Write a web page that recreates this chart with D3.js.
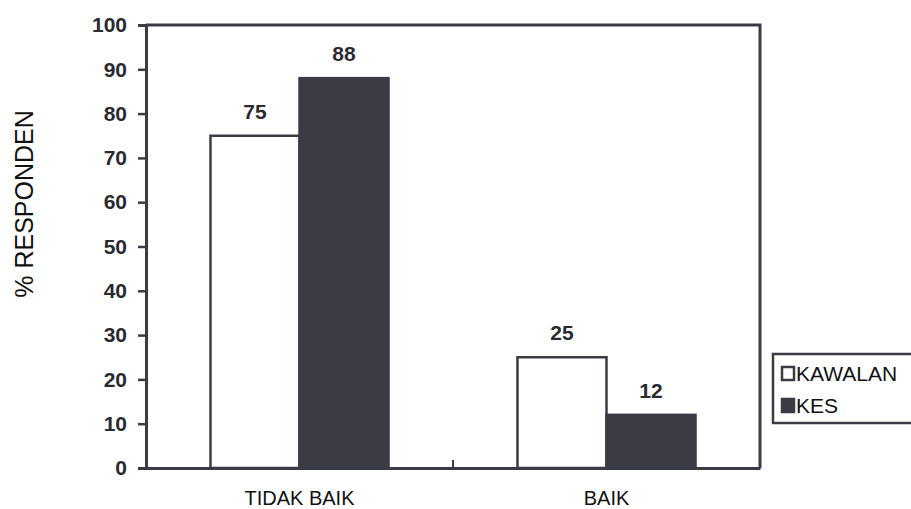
<!DOCTYPE html>
<html>
<head>
<meta charset="utf-8">
<script src="https://cdn.jsdelivr.net/npm/d3@7"></script>
<style>
  body { margin: 0; background: #fff; }
  svg { display: block; font-family: "Liberation Sans", Arial, sans-serif; }
</style>
</head>
<body>
<svg id="chart"></svg>
<script>
const categories = ["TIDAK BAIK", "BAIK"];
const series = ["KAWALAN", "KES"];
const kawalan = [75, 25];
const kes = [88, 12];
const yTicks = [0, 10, 20, 30, 40, 50, 60, 70, 80, 90, 100];

const width = 911;
const height = 509;
const ink = "#3b3b46";
const fills = { KAWALAN: "#fff", KES: ink };

const svg = d3.select("#chart")
    .attr("width", width)
    .attr("height", height);

const plot = { left: 146, right: 760, top: 25, bottom: 468 };

const y = d3.scaleLinear()
    .domain([0, 100])
    .range([plot.bottom, plot.top]);

const x0 = d3.scaleBand()
    .domain(categories)
    .range([plot.left, plot.right])
    .paddingInner(0.42)
    .paddingOuter(0.21);

const x1 = d3.scaleBand()
    .domain(series)
    .range([0, x0.bandwidth()]);

const rows = categories.map((c, i) => ({
    cat: c,
    values: [{ key: "KAWALAN", v: kawalan[i] }, { key: "KES", v: kes[i] }]
}));

// bars
const groups = svg.append("g").selectAll("g")
    .data(rows)
    .join("g")
    .attr("transform", d => `translate(${x0(d.cat)},0)`);

groups.selectAll("rect")
    .data(d => d.values)
    .join("rect")
    .attr("x", d => x1(d.key))
    .attr("y", d => y(d.v))
    .attr("width", x1.bandwidth())
    .attr("height", d => y(0) - y(d.v))
    .attr("fill", d => fills[d.key])
    .attr("stroke", ink)
    .attr("stroke-width", 2.5);

groups.selectAll("text")
    .data(d => d.values)
    .join("text")
    .attr("x", d => x1(d.key) + x1.bandwidth() / 2)
    .attr("y", d => y(d.v) - 17)
    .attr("text-anchor", "middle")
    .attr("font-size", 21)
    .attr("font-weight", "bold")
    .attr("fill", "#2a2a30")
    .text(d => d.v);

// plot frame (top and right)
svg.append("path")
    .attr("d", `M${plot.left},${plot.top}H${plot.right}V${plot.bottom}`)
    .attr("fill", "none")
    .attr("stroke", ink)
    .attr("stroke-width", 3);

// y axis
const yAxis = svg.append("g")
    .attr("transform", `translate(${plot.left},0)`)
    .call(d3.axisLeft(y).tickValues(yTicks).tickSize(8).tickPadding(11));
yAxis.select(".domain").attr("stroke", ink).attr("stroke-width", 3);
yAxis.selectAll(".tick line").attr("stroke", ink).attr("stroke-width", 2.5);
yAxis.selectAll(".tick text")
    .attr("font-size", 21)
    .attr("font-weight", "bold")
    .attr("fill", "#2a2a30");

// x axis
const xAxis = svg.append("g")
    .attr("transform", `translate(0,${plot.bottom})`)
    .call(d3.axisBottom(x0).tickSize(0).tickPadding(0));
xAxis.select(".domain").attr("stroke", ink).attr("stroke-width", 3);
xAxis.selectAll(".tick text")
    .attr("font-size", 20)
    .attr("fill", "#111")
    .attr("y", 37)
    .attr("dy", 0);

// divider tick between categories
svg.append("line")
    .attr("x1", (x0("TIDAK BAIK") + x0.bandwidth() + x0("BAIK")) / 2)
    .attr("x2", (x0("TIDAK BAIK") + x0.bandwidth() + x0("BAIK")) / 2)
    .attr("y1", plot.bottom)
    .attr("y2", plot.bottom - 8)
    .attr("stroke", ink)
    .attr("stroke-width", 2);

// y label
svg.append("text")
    .attr("transform", "translate(33,204) rotate(-90)")
    .attr("text-anchor", "middle")
    .attr("font-size", 25)
    .attr("fill", "#111")
    .text("% RESPONDEN");

// legend
const legend = svg.append("g").attr("transform", "translate(773,354)");
legend.append("rect")
    .attr("width", 150)
    .attr("height", 69)
    .attr("fill", "#fff")
    .attr("stroke", ink)
    .attr("stroke-width", 2.5);

const items = legend.selectAll("g.item")
    .data(series)
    .join("g")
    .attr("class", "item")
    .attr("transform", (d, i) => `translate(9,${13 + i * 32})`);

items.append("rect")
    .attr("width", 12)
    .attr("height", 13)
    .attr("fill", d => fills[d])
    .attr("stroke", ink)
    .attr("stroke-width", 2.5);

items.append("text")
    .attr("x", 14)
    .attr("y", 14)
    .attr("font-size", 21)
    .attr("fill", "#111")
    .text(d => d);
</script>
</body>
</html>
